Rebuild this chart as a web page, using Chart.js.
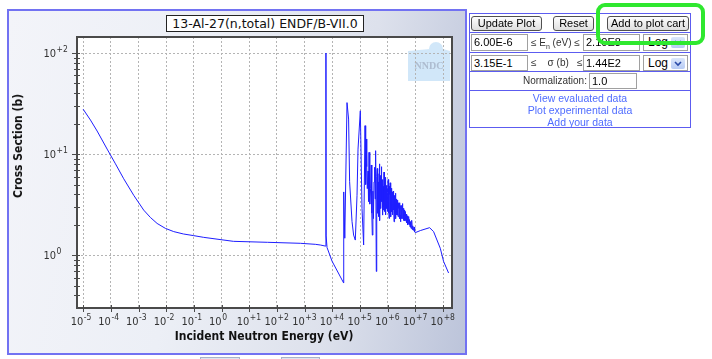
<!DOCTYPE html>
<html>
<head>
<meta charset="utf-8">
<script src="https://cdn.jsdelivr.net/npm/chart.js@4"></script>
<style>
    body { margin: 0; width: 712px; height: 359px; background: #fff; position: relative; overflow: hidden; font-family: 'Liberation Sans', Arial, sans-serif; }
    #frame { position: absolute; left: 7px; top: 9px; width: 460px; height: 346px; box-sizing: border-box;
        border: 2px solid #7272f2;
        background: linear-gradient(100deg, #f3f4f9 0%, #eceff6 40%, #dde1ec 72%, #bcc4da 100%); }
    #chart { position: absolute; left: 0; top: 0; }
    .plotTitle { position: absolute; left: 166px; top: 15px; width: 198px; height: 17px; box-sizing: border-box;
        border: 1px solid #222; background: #fff; font: 12.5px 'DejaVu Sans'; line-height: 15px; text-align: center; color: #111; white-space: nowrap; }
    .axisTitle { position: absolute; font: bold 12px 'DejaVu Sans Condensed', 'DejaVu Sans'; color: #111; white-space: nowrap; }
    .el { position: absolute; box-sizing: border-box; white-space: nowrap; }
    .btn { height: 15px; border: 1px solid #505050; border-radius: 3px; background: linear-gradient(#fefefe, #dedede);
        font-size: 11px; line-height: 13px; text-align: center; color: #000; }
    .inp { border: 1px solid #a0a0a0; background: #fff; font-size: 11px; line-height: 14px; padding-left: 2px; color: #000; }
    .lbl { font-size: 10px; color: #333; }
    .sel { border: 1px solid #a0a0a0; background: #fff; font-size: 12px; line-height: 14px; padding-left: 4px; }
    .arrow { position: absolute; right: 2px; top: 2px; width: 14px; height: 11px; background: linear-gradient(#dbe6fb, #b7cbf4); border-radius: 2px; }
    .link { left: 469px; width: 222px; text-align: center; font-size: 10.5px; color: #4f6cff; line-height: 12px; }
    .hline { left: 469px; width: 222px; height: 0; border-top: 1px solid #5c5cf0; }
</style>
</head>
<body>
<div id="frame"></div>
<canvas id="chart" width="470" height="359"></canvas>
<div class="plotTitle">13-Al-27(n,total) ENDF/B-VII.0</div>
<div class="axisTitle" style="left:18px; top:146px; transform: translate(-50%, -50%) rotate(-90deg);">Cross Section (b)</div>
<div class="axisTitle" style="left:264px; top:336px; transform: translate(-50%, -50%);">Incident Neutron Energy (eV)</div>

<!-- side panel -->
<div class="el" style="left:469px; top:13px; width:222px; height:115px; border:1px solid #5c5cf0;"></div>
<div class="el hline" style="top:32px;"></div>
<div class="el hline" style="top:52px;"></div>
<div class="el hline" style="top:71px;"></div>
<div class="el hline" style="top:90px;"></div>

<div class="el btn" style="left:471px; top:16px; width:71px;">Update Plot</div>
<div class="el btn" style="left:553px; top:16px; width:41px;">Reset</div>
<div class="el btn" style="left:607px; top:16px; width:82px;">Add to plot cart</div>

<div class="el inp" id="eMinBox" style="left:471px; top:34px; width:57px; height:17px;"></div>
<div class="el lbl" style="left:531px; top:37px;">≤ E<sub style="font-size:7px">n</sub> (eV) ≤</div>
<div class="el inp" id="eMaxBox" style="left:583px; top:34px; width:57px; height:17px;"></div>
<div class="el sel" style="left:643px; top:34px; width:45px; height:17px;">Log<span class="arrow"><svg width="14" height="11"><polyline points="4,4 7,7 10,4" fill="none" stroke="#2a4aa8" stroke-width="1.6"/></svg></span></div>

<div class="el inp" id="sMinBox" style="left:471px; top:55px; width:57px; height:16px;"></div>
<div class="el lbl" style="left:531px; top:57px;">≤ &nbsp;&nbsp;&nbsp;σ (b) &nbsp;&nbsp;≤</div>
<div class="el inp" id="sMaxBox" style="left:583px; top:55px; width:57px; height:16px;"></div>
<div class="el sel" style="left:643px; top:55px; width:45px; height:16px;">Log<span class="arrow"><svg width="14" height="11"><polyline points="4,4 7,7 10,4" fill="none" stroke="#2a4aa8" stroke-width="1.6"/></svg></span></div>

<div class="el lbl" style="left:523px; top:75px;">Normalization:</div>
<div class="el inp" style="left:589px; top:73px; width:48px; height:16px;">1.0</div>

<div class="el link" style="top:92px;">View evaluated data</div>
<div class="el link" style="top:104px;">Plot experimental data</div>
<div class="el link" style="top:116px;">Add your data</div>

<div class="el" style="left:596px; top:3px; width:109px; height:42px; border:4px solid #2fe82f; border-radius:9px; z-index:5;"></div>

<div class="el" style="left:200px; top:357px; width:40px; height:5px; border:1px solid #a8b2ca; background:#dfe4ef;"></div>
<div class="el" style="left:281px; top:357px; width:39px; height:5px; border:1px solid #a8b2ca; background:#dfe4ef;"></div>

<script>
// Axis ranges (as typed in the side panel)
const E_MIN = 6.00e-6;
const E_MAX = 2.10e8;
const SIGMA_MIN = 3.15e-1;
const SIGMA_MAX = 1.44e2;

// Decade ticks
const xTickValues = [1e-5, 1e-4, 1e-3, 1e-2, 1e-1, 1e0, 1e1, 1e2, 1e3, 1e4, 1e5, 1e6, 1e7, 1e8];
const yTickValues = [1e0, 1e1, 1e2];

// [energy (eV), cross section (b)]
// thermal / 1/v region up to the first resonance
const thermalPoints = [
    [1e-5, 27.8], [1.84e-5, 21.7], [3.2e-5, 16.9], [7.35e-5, 11.2], [1.47e-4, 8.01],
    [2.92e-4, 5.70], [6.71e-4, 3.91], [1.54e-3, 2.79], [2.69e-3, 2.36], [4.69e-3, 2.06],
    [9.35e-3, 1.84], [1.87e-2, 1.71], [4.18e-2, 1.62], [9.84e-2, 1.56], [0.226, 1.50],
    [2.67, 1.37], [45, 1.34], [700, 1.31], [2430, 1.28], [3690, 1.26], [5590, 1.23]
];

// resolved resonances, 5.9 keV to ~400 keV
const resonancePoints = [
    [5850, 1.45], [5905, 100], [5960, 1.55], [6440, 1.19], [9750, 0.873],
    [25600, 0.531], [25800, 4.22], [28200, 1.47], [33900, 32.3], [38700, 22.2],
    [42100, 5.33], [51400, 2.16], [58700, 1.58], [67600, 1.41], [78000, 3.91],
    [84700, 11.2], [102600, 26.8], [118000, 2.90], [135000, 1.26], [151600, 19.1],
    [160000, 5.0], [168900, 14.1], [175000, 7.5], [183400, 4.55], [195000, 6.8],
    [203000, 3.4], [211300, 10.4], [225000, 3.2], [241300, 4.55], [255000, 7.8],
    [267000, 2.6], [278000, 1.58], [292000, 4.3], [305000, 2.3], [320200, 5.3],
    [338000, 7.4], [352000, 3.6], [365800, 10.8], [387600, 0.69]
];

// unresolved / fluctuating region, 0.4 - 10 MeV
const fluctuationPoints = [
    [395000, 4.2], [400000, 3.1], [410000, 6.0], [420000, 7.2], [430000, 3.4],
    [440000, 2.6], [450000, 4.6], [457800, 5.3], [470000, 2.4], [480000, 3.0],
    [490000, 6.4], [500000, 8.0], [510000, 3.6], [520000, 2.2], [530000, 4.5],
    [541000, 6.15], [555000, 3.2], [570000, 2.9], [580000, 5.4], [590000, 7.5],
    [600000, 4.1], [610000, 3.4], [625000, 5.0], [638500, 2.49], [650000, 3.8],
    [660000, 5.6], [675000, 3.3], [690000, 2.8], [700000, 4.2], [710000, 4.8],
    [722000, 3.0], [735300, 6.64], [748000, 3.6], [760000, 2.7], [780000, 4.4],
    [799000, 3.37], [815000, 2.6], [830000, 5.9], [845000, 3.8], [860000, 2.5],
    [875000, 3.6], [890000, 4.9], [910000, 3.4], [930000, 2.9], [950000, 4.1],
    [967400, 4.55], [985000, 2.7], [1.0e6, 3.1], [1.02e6, 4.2], [1.04e6, 5.6],
    [1.06e6, 3.2], [1.08e6, 2.6], [1.095e6, 3.9], [1.114e6, 2.31], [1.13e6, 3.5],
    [1.15e6, 4.8], [1.17e6, 3.2], [1.19e6, 2.9], [1.21e6, 4.0], [1.23e6, 5.2],
    [1.25e6, 3.0], [1.273e6, 3.63], [1.29e6, 2.7], [1.31e6, 2.4], [1.335e6, 3.8],
    [1.36e6, 4.6], [1.385e6, 2.9], [1.41e6, 2.7], [1.44e6, 4.2], [1.466e6, 3.91],
    [1.49e6, 2.6], [1.52e6, 2.5], [1.55e6, 3.7], [1.58e6, 4.3], [1.6e6, 2.8],
    [1.63e6, 2.9], [1.66e6, 3.6], [1.689e6, 2.14], [1.72e6, 3.2], [1.75e6, 3.9],
    [1.78e6, 2.5], [1.82e6, 2.6], [1.85e6, 3.4], [1.88e6, 4.1], [1.9e6, 2.7],
    [1.929e6, 3.37], [1.96e6, 2.4], [1.99e6, 2.3], [2.02e6, 3.3], [2.06e6, 3.6],
    [2.1e6, 2.5], [2.14e6, 2.7], [2.18e6, 3.4], [2.222e6, 2.49], [2.26e6, 3.0],
    [2.3e6, 3.5], [2.34e6, 2.6], [2.38e6, 2.4], [2.42e6, 3.3], [2.47e6, 3.2],
    [2.51e6, 2.4], [2.558e6, 2.90], [2.6e6, 3.2], [2.64e6, 2.3], [2.69e6, 2.8],
    [2.73e6, 3.3], [2.78e6, 2.3], [2.82e6, 2.5], [2.87e6, 3.1], [2.922e6, 2.14],
    [2.97e6, 2.7], [3.02e6, 3.0], [3.07e6, 2.3], [3.12e6, 2.4], [3.18e6, 2.9],
    [3.24e6, 3.1], [3.3e6, 2.3], [3.366e6, 3.24], [3.42e6, 2.6], [3.48e6, 2.3],
    [3.55e6, 2.8], [3.62e6, 2.9], [3.68e6, 2.2], [3.75e6, 2.4], [3.81e6, 2.9],
    [3.876e6, 2.49], [3.94e6, 2.2], [4.0e6, 2.8], [4.07e6, 2.5], [4.15e6, 2.2],
    [4.22e6, 2.6], [4.29e6, 2.7], [4.36e6, 2.2], [4.429e6, 2.70], [4.51e6, 2.35],
    [4.6e6, 2.2], [4.69e6, 2.55], [4.78e6, 2.5], [4.85e6, 2.15], [4.93e6, 2.1],
    [5.02e6, 2.45], [5.101e6, 2.14], [5.2e6, 2.3], [5.3e6, 2.4], [5.4e6, 2.0],
    [5.5e6, 2.05], [5.64e6, 2.3], [5.777e6, 2.41], [5.89e6, 2.0], [6.0e6, 2.0],
    [6.12e6, 2.25], [6.25e6, 2.2], [6.4e6, 1.9], [6.546e6, 1.93], [6.67e6, 2.15],
    [6.8e6, 2.1], [6.97e6, 1.84], [7.15e6, 1.85], [7.35e6, 2.05], [7.541e6, 2.21],
    [7.72e6, 1.8], [7.9e6, 1.78], [8.15e6, 1.95], [8.401e6, 1.76], [8.7e6, 1.82],
    [9.0e6, 1.9], [9.4e6, 1.7], [9.918e6, 1.67]
];

// smooth high-energy tail
const highEnergyPoints = [
    [1.503e7, 1.75], [3.254e7, 1.87], [4.54e7, 1.71], [7.924e7, 1.17], [1.043e8, 0.867], [1.58e8, 0.666]
];

const FONT = 'DejaVu Sans Condensed';
const GRID_COLOR = '#b4b4b4';
const AXIS_COLOR = '#4a4a4a';
const LABEL_COLOR = '#333';

// Fill the side panel inputs
document.getElementById('eMinBox').textContent = '6.00E-6';
document.getElementById('eMaxBox').textContent = '2.10E8';
document.getElementById('sMinBox').textContent = '3.15E-1';
document.getElementById('sMaxBox').textContent = '1.44E2';

// Draw "10" with a raised exponent; (x, y) = left edge, baseline of "10"
function drawPower(ctx, v, x, y) {
    const e = Math.round(Math.log10(v));
    const exp = e > 0 ? '+' + e : String(e);
    ctx.font = `11px "${FONT}"`;
    ctx.fillText('10', x, y);
    const w = ctx.measureText('10').width;
    ctx.font = `8.5px "${FONT}"`;
    ctx.fillText(exp, x + w + 0.5, y - 5);
}

// White plot area, watermark, frame, tick marks and tick labels
const plotDecor = {
    id: 'plotDecor',
    beforeDraw(chart) {
        const { ctx, chartArea: a } = chart;
        ctx.save();
        ctx.fillStyle = '#ffffff';
        ctx.fillRect(a.left, a.top, a.right - a.left, a.bottom - a.top);
        // NNDC watermark
        ctx.fillStyle = 'rgba(172, 212, 244, 0.55)';
        ctx.beginPath();
        ctx.moveTo(a.right - 44, a.top + 14);
        ctx.lineTo(a.right - 22, a.top + 12);
        ctx.arc(a.right - 16, a.top + 12, 7, Math.PI, 0);
        ctx.lineTo(a.right - 2, a.top + 14);
        ctx.lineTo(a.right - 2, a.top + 44);
        ctx.lineTo(a.right - 44, a.top + 44);
        ctx.closePath();
        ctx.fill();
        ctx.fillStyle = 'rgba(150, 160, 180, 0.6)';
        ctx.font = 'bold 10px "Liberation Serif"';
        ctx.textAlign = 'center';
        ctx.textBaseline = 'middle';
        ctx.fillText('NNDC', a.right - 23, a.top + 29);
        ctx.restore();
    },
    afterDraw(chart) {
        const { ctx, chartArea: a, scales } = chart;
        ctx.save();
        ctx.strokeStyle = AXIS_COLOR;
        ctx.lineWidth = 1;
        // y ticks: decades and minors
        for (let p = -1; p <= 2; p++) {
            for (let k = 1; k <= 9; k++) {
                const v = k * Math.pow(10, p);
                if (v < SIGMA_MIN || v > SIGMA_MAX) continue;
                const y = Math.round(scales.y.getPixelForValue(v)) + 0.5;
                ctx.beginPath();
                ctx.moveTo(a.left - (k === 1 ? 5 : 3), y);
                ctx.lineTo(a.left + 3, y);
                ctx.stroke();
            }
        }
        // x ticks: decades
        xTickValues.forEach(v => {
            const x = Math.round(scales.x.getPixelForValue(v)) + 0.5;
            ctx.beginPath();
            ctx.moveTo(x, a.bottom - 3);
            ctx.lineTo(x, a.bottom + 4);
            ctx.stroke();
        });
        ctx.lineWidth = 2;
        ctx.strokeRect(a.left, a.top, a.right - a.left, a.bottom - a.top);

        // tick labels
        ctx.fillStyle = LABEL_COLOR;
        ctx.textAlign = 'left';
        ctx.textBaseline = 'alphabetic';
        xTickValues.forEach(v => {
            drawPower(ctx, v, scales.x.getPixelForValue(v) - 12.5, a.bottom + 17);
        });
        yTickValues.forEach(v => {
            drawPower(ctx, v, a.left - 33.5, scales.y.getPixelForValue(v) + 4);
        });
        ctx.restore();
    }
};

new Chart(document.getElementById('chart'), {
    type: 'line',
    data: {
        datasets: [{
            data: [...thermalPoints, ...resonancePoints, ...fluctuationPoints, ...highEnergyPoints]
                .map(([e, s]) => ({ x: e, y: s })),
            borderColor: '#1e1eff',
            borderWidth: 1,
            pointRadius: 0,
            tension: 0,
            fill: false
        }]
    },
    options: {
        responsive: false,
        animation: false,
        devicePixelRatio: 1,
        layout: { padding: { left: 0, top: 37, right: 18, bottom: 0 } },
        plugins: {
            legend: { display: false },
            tooltip: { enabled: false }
        },
        scales: {
            x: {
                type: 'logarithmic',
                min: E_MIN,
                max: E_MAX,
                afterBuildTicks: s => { s.ticks = xTickValues.map(v => ({ value: v })); },
                afterFit: s => { s.height = 51; },
                grid: { color: GRID_COLOR, lineWidth: 1, drawTicks: false },
                border: { display: false, dash: [2, 2] },
                ticks: { display: false }
            },
            y: {
                type: 'logarithmic',
                min: SIGMA_MIN,
                max: SIGMA_MAX,
                afterBuildTicks: s => { s.ticks = yTickValues.map(v => ({ value: v })); },
                afterFit: s => { s.width = 77; },
                grid: { color: GRID_COLOR, lineWidth: 1, drawTicks: false },
                border: { display: false, dash: [2, 2] },
                ticks: { display: false }
            }
        }
    },
    plugins: [plotDecor]
});
</script>
</body>
</html>
